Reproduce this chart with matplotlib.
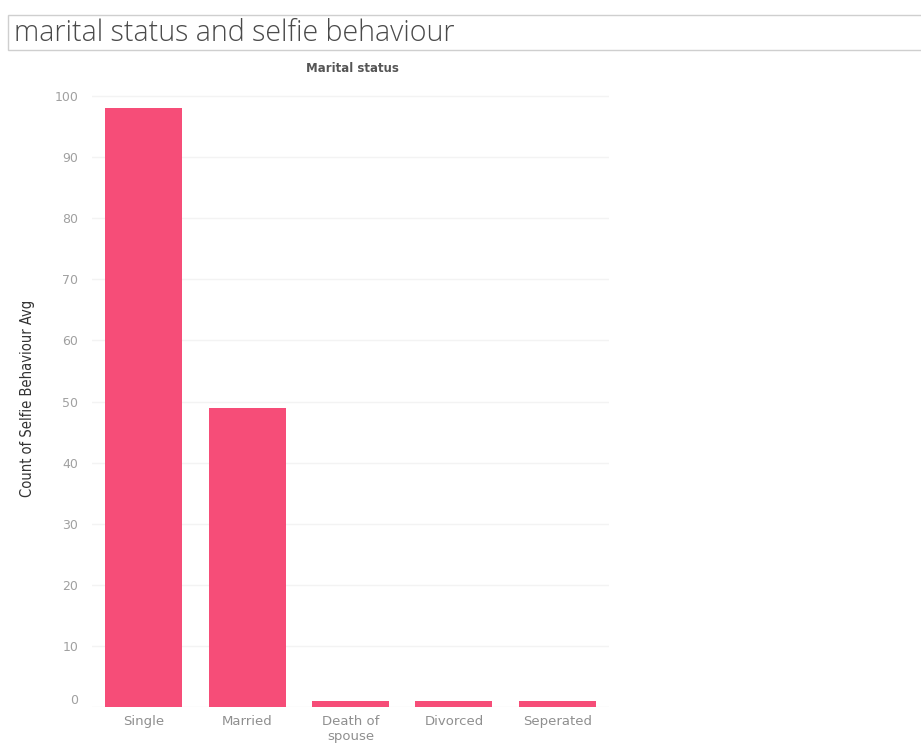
import matplotlib
matplotlib.use("Agg")
import matplotlib.pyplot as plt
from matplotlib.patches import Rectangle

categories = ["Single", "Married", "Death of\nspouse", "Divorced", "Seperated"]
values = [98, 49, 1, 1, 1]
yticks = [0, 10, 20, 30, 40, 50, 60, 70, 80, 90, 100]

W, H = 921, 744
fig = plt.figure(figsize=(W / 100, H / 100), dpi=100)
fig.patch.set_facecolor("white")

# title box
fig.patches.append(Rectangle((8 / W, 1 - 50 / H), 1.0, 35 / H, transform=fig.transFigure,
                             facecolor="white", edgecolor="#cfcfcf", linewidth=1.0))
fig.text(14 / W, 1 - 33 / H, "marital status and selfie behaviour", fontsize=20.6,
         color="#4a4a4a", va="center", ha="left", family="Open Sans", fontweight="light")

ax = fig.add_axes([92 / W, 37 / H, 517 / W, 617 / H])
x = list(range(len(categories)))
ax.bar(x, values, width=0.745, color="#F64D78", zorder=3)
ax.set_xlim(-0.5, len(categories) - 0.5)
ax.set_ylim(0, 101)
ax.set_yticks(yticks)
ax.set_xticks(x)
ax.set_xticklabels(categories, fontsize=9.5, color="#8f8f8f", linespacing=1.15)
ax.set_yticklabels([str(t) for t in yticks], fontsize=9, color="#a0a0a0")
ax.get_yticklabels()[0].set_va("bottom")
ax.tick_params(axis="y", length=0, pad=10)
ax.tick_params(axis="x", length=0, pad=6)
for s in ax.spines.values():
    s.set_visible(False)
ax.grid(axis="y", color="#f3f3f3", linewidth=1.0, zorder=0)
ax.set_ylabel("Count of Selfie Behaviour Avg", fontsize=10.5, color="#333333",
              family="DejaVu Sans", fontstretch="condensed")
ax.yaxis.set_label_coords(-0.11, 0.5)

fig.text(352 / W, 1 - 68 / H, "Marital status", fontsize=8.5, fontweight="bold",
         color="#555555", ha="center", va="center")

fig.savefig("out.png", dpi=100)
